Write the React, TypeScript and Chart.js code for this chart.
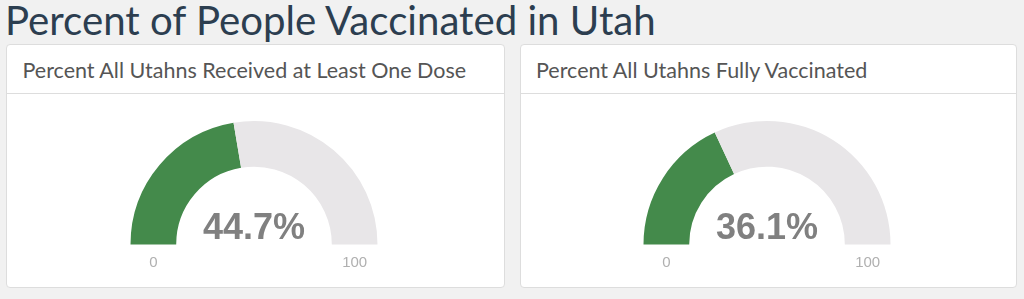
import React, { useEffect, useRef } from "react";
import { Chart, registerables } from "chart.js";

Chart.register(...registerables);

const pageTitle = "Percent of People Vaccinated in Utah";
const gaugeTitles = ["Percent All Utahns Received at Least One Dose", "Percent All Utahns Fully Vaccinated"];
const gaugeValues = [44.7, 36.1];
const gaugeMin = 0;
const gaugeMax = 100;
const gaugeLevelColor = "#448a4b";
const gaugeTrackColor = "#e8e6e8";

const gaugeTextPlugin = {
  id: "gaugeText",
  afterDatasetsDraw(chart: any) {
    const meta = chart.getDatasetMeta(0);
    const arc = meta.data[0];
    if (!arc) return;
    const { x, y, innerRadius, outerRadius } = arc.getProps(["x", "y", "innerRadius", "outerRadius"], true);
    const value = chart.data.datasets[0].data[0];
    const ctx = chart.ctx;
    ctx.save();
    ctx.textAlign = "center";
    ctx.textBaseline = "alphabetic";
    ctx.fillStyle = "#808080";
    ctx.font = "bold 36px 'Liberation Sans', Arial, sans-serif";
    ctx.fillText(value.toFixed(1) + "%", x, y - 5.5);
    ctx.fillStyle = "#b0b0b0";
    ctx.font = "15px 'Liberation Sans', Arial, sans-serif";
    const mid = (innerRadius + outerRadius) / 2;
    ctx.fillText(String(gaugeMin), x - mid, y + 22);
    ctx.fillText(String(gaugeMax), x + mid, y + 22);
    ctx.restore();
  },
};

function Gauge({ value, left }: { value: number; left: number }) {
  const ref = useRef<HTMLCanvasElement | null>(null);
  useEffect(() => {
    if (!ref.current) return;
    const chart = new Chart(ref.current, {
      type: "doughnut",
      data: {
        labels: ["value", "rest"],
        datasets: [
          {
            data: [value, gaugeMax - value],
            backgroundColor: [gaugeLevelColor, gaugeTrackColor],
            borderWidth: 0,
          },
        ],
      },
      options: {
        animation: false,
        responsive: false,
        rotation: -90,
        circumference: 180,
        cutout: "63%",
        layout: { padding: { left: 16.5, right: 16.5, top: 11, bottom: 35.5 } },
        plugins: { legend: { display: false }, tooltip: { enabled: false } },
        events: [],
      },
      plugins: [gaugeTextPlugin],
    });
    return () => chart.destroy();
  }, [value]);
  return (
    <canvas
      ref={ref}
      width={280}
      height={170}
      style={{ position: "absolute", left, top: 110, width: 280, height: 170 }}
    />
  );
}

const cards = [
  { left: 6, width: 499, gaugeCx: 253.5 },
  { left: 519.5, width: 497.5, gaugeCx: 766.5 },
];

export default function App() {
  return (
    <div
      style={{
        position: "fixed",
        left: 0,
        top: 0,
        width: 1024,
        height: 299,
        background: "#f1f1f1",
        overflow: "hidden",
        fontFamily: "Lato, sans-serif",
      }}
    >
      <div
        style={{
          position: "absolute",
          left: 5,
          top: -0.5,
          fontSize: 40.2,
          lineHeight: "40px",
          color: "#2c3e50",
          whiteSpace: "nowrap",
        }}
      >
        {pageTitle}
      </div>
      {cards.map((c, i) => (
        <div
          key={i}
          style={{
            position: "absolute",
            left: c.left,
            top: 44,
            width: c.width,
            height: 244,
            background: "#fff",
            border: "1px solid #dddddd",
            borderRadius: 4,
            boxSizing: "border-box",
          }}
        >
          <div
            style={{
              position: "absolute",
              left: 0,
              top: 0,
              right: 0,
              height: 49,
              borderBottom: "1px solid #dddddd",
              boxSizing: "border-box",
            }}
          >
            <div
              style={{
                position: "absolute",
                left: 15.5,
                top: 15,
                fontSize: 21.5,
                lineHeight: "21.5px",
                color: "#555555",
                whiteSpace: "nowrap",
              }}
            >
              {gaugeTitles[i]}
            </div>
          </div>
        </div>
      ))}
      {cards.map((c, i) => (
        <Gauge key={"g" + i} value={gaugeValues[i]} left={c.gaugeCx - 140} />
      ))}
    </div>
  );
}
